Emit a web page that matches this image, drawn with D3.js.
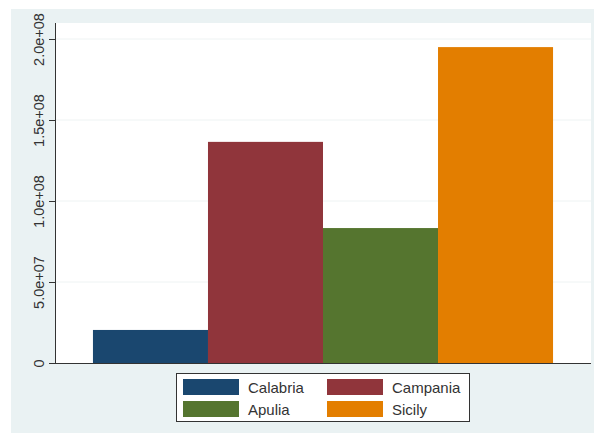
<!DOCTYPE html>
<html>
<head>
<meta charset="utf-8">
<script src="https://cdn.jsdelivr.net/npm/d3@7"></script>
<style>
  html, body { margin: 0; padding: 0; background: #ffffff; }
  svg { display: block; }
  text { font-family: "Liberation Sans", Arial, Helvetica, sans-serif; }
</style>
</head>
<body>
<svg id="chart" width="594" height="435"></svg>
<script>
// Regions and their totals
const regions = ["Calabria", "Campania", "Apulia", "Sicily"];
const totals = [2.04e7, 1.365e8, 8.33e7, 1.95e8];
const colors = ["#1a476f", "#90353b", "#55752f", "#e37e00"];
const yTicks = [0, 5e7, 1e8, 1.5e8, 2e8];
const yTickLabels = ["0", "5.0e+07", "1.0e+08", "1.5e+08", "2.0e+08"];

const svg = d3.select("#chart");

// outer panel
svg.append("rect")
  .attr("x", 11).attr("y", 9)
  .attr("width", 583).attr("height", 424)
  .attr("fill", "#eaf2f3");

const plot = { left: 55, right: 591, top: 23, bottom: 363 };

svg.append("rect")
  .attr("x", plot.left).attr("y", plot.top)
  .attr("width", plot.right - plot.left).attr("height", plot.bottom - plot.top)
  .attr("fill", "#ffffff");

const x = d3.scaleBand()
  .domain(regions)
  .range([plot.left, plot.right])
  .paddingInner(0)
  .paddingOuter(0.33);

const y = d3.scaleLinear()
  .domain([0, 2e8])
  .range([plot.bottom, 39]);

// gridlines
svg.append("g")
  .selectAll("line")
  .data(yTicks.filter(d => d > 0))
  .join("line")
  .attr("x1", plot.left).attr("x2", plot.right)
  .attr("y1", d => y(d)).attr("y2", d => y(d))
  .attr("stroke", "#eef3f3")
  .attr("stroke-width", 1);

// bars
svg.append("g")
  .selectAll("rect")
  .data(regions)
  .join("rect")
  .attr("x", d => x(d))
  .attr("width", x.bandwidth())
  .attr("y", (d, i) => y(totals[i]))
  .attr("height", (d, i) => y(0) - y(totals[i]))
  .attr("fill", (d, i) => colors[i]);

// y axis
const yAxis = d3.axisLeft(y)
  .tickValues(yTicks)
  .tickFormat((d, i) => yTickLabels[i])
  .tickSize(6)
  .tickSizeOuter(0);

const gy = svg.append("g")
  .attr("transform", `translate(${plot.left},0)`)
  .call(yAxis);
gy.select(".domain").remove();
gy.selectAll(".tick line").attr("stroke", "#333333");
gy.selectAll(".tick text")
  .attr("fill", "#333333")
  .attr("font-size", 14.5)
  .attr("x", 0).attr("dy", 0)
  .attr("text-anchor", "middle")
  .attr("transform", "translate(-11.5,0) rotate(-90)");

svg.append("line")
  .attr("x1", plot.left + 0.5).attr("x2", plot.left + 0.5)
  .attr("y1", plot.top).attr("y2", plot.bottom)
  .attr("stroke", "#333333");

// baseline
svg.append("line")
  .attr("x1", plot.left).attr("x2", plot.right)
  .attr("y1", plot.bottom + 0.5).attr("y2", plot.bottom + 0.5)
  .attr("stroke", "#333333");

// legend
const legend = svg.append("g");
legend.append("rect")
  .attr("x", 176.5).attr("y", 373.5)
  .attr("width", 293).attr("height", 48)
  .attr("fill", "#ffffff")
  .attr("stroke", "#333333")
  .attr("stroke-width", 1);

const cols = [183, 327];
const rows = [379, 401];
regions.forEach((r, i) => {
  const cx = cols[i % 2], ry = rows[Math.floor(i / 2)];
  legend.append("rect")
    .attr("x", cx).attr("y", ry)
    .attr("width", 56).attr("height", 16)
    .attr("fill", colors[i]);
  legend.append("text")
    .attr("x", cx + 65).attr("y", ry + 13.5)
    .attr("font-size", 15)
    .attr("fill", "#333333")
    .text(r);
});
</script>
</body>
</html>
